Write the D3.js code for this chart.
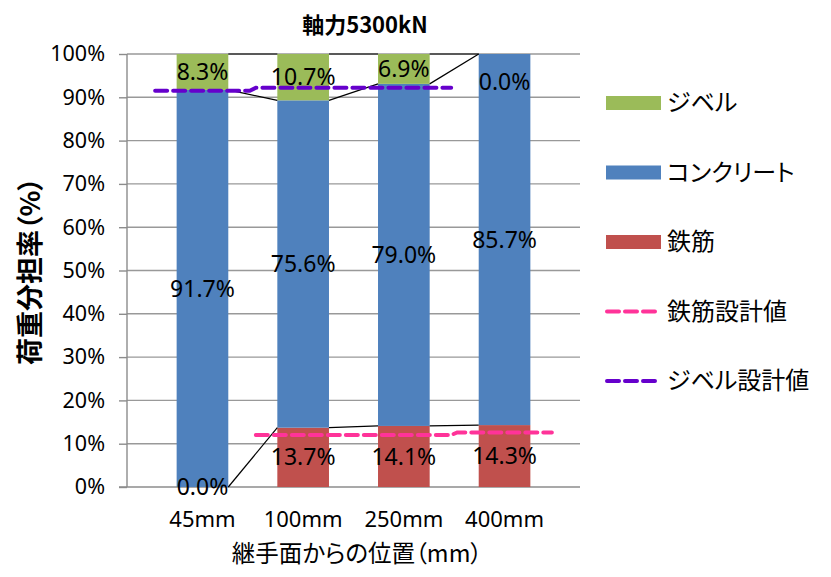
<!DOCTYPE html>
<html>
<head>
<meta charset="utf-8">
<script src="https://cdn.jsdelivr.net/npm/d3@7"></script>
<style>
  body { margin: 0; background: #fff; }
  text { font-family: "Noto Sans", "Noto Sans CJK JP", sans-serif; fill: #000; }
  .jp { font-family: "Noto Sans CJK JP", sans-serif; font-feature-settings: "palt"; }
</style>
</head>
<body>
<div id="chart"></div>
<script>
// data
var categories = ["45mm", "100mm", "250mm", "400mm"];
var rebar = [0.0, 13.7, 14.1, 14.3];       // 鉄筋
var concrete = [91.7, 75.6, 79.0, 85.7];   // コンクリート
var jibel = [8.3, 10.7, 6.9, 0.0];         // ジベル
var rebarDesign = [null, 12.0, 12.0, 12.6];  // 鉄筋設計値
var jibelDesign = [91.5, 92.2, 92.2, null];  // ジベル設計値
var yTicks = [0, 10, 20, 30, 40, 50, 60, 70, 80, 90, 100];

var chart = { width: 831, height: 577,
    left: 127, right: 580, top: 54, bottom: 487 };

var svg = d3.select("#chart").append("svg")
    .attr("width", chart.width)
    .attr("height", chart.height);

var x = d3.scaleBand().domain(categories)
    .range([chart.left, chart.right])
    .paddingInner(0.487).paddingOuter(0.493);
var y = d3.scaleLinear().domain([0, 100]).range([chart.bottom, chart.top]);

// gridlines
svg.append("g").selectAll("line")
    .data(yTicks.slice(1))
    .enter().append("line")
    .attr("x1", chart.left).attr("x2", chart.right)
    .attr("y1", function(d) { return y(d); })
    .attr("y2", function(d) { return y(d); })
    .attr("stroke", "#999").attr("stroke-width", 1.4);

// y axis
var yAxis = svg.append("g")
    .attr("transform", "translate(" + chart.left + ",0)")
    .call(d3.axisLeft(y).tickValues(yTicks).tickSize(8).tickPadding(14)
        .tickFormat(function(d) { return d + "%"; }));
yAxis.selectAll("line").attr("stroke", "#8c8c8c").attr("stroke-width", 1.4);
yAxis.select(".domain").attr("stroke", "#8c8c8c").attr("stroke-width", 1.4)
    .attr("d", "M0," + chart.bottom + "V" + chart.top);
yAxis.selectAll("text").attr("font-size", 21.5).attr("font-family", "Noto Sans").attr("fill", "#000");

// x axis baseline
svg.append("line")
    .attr("x1", chart.left - 8).attr("x2", chart.right)
    .attr("y1", y(0)).attr("y2", y(0))
    .attr("stroke", "#8c8c8c").attr("stroke-width", 1.4);

// stacked bars
var series = [
    { name: "鉄筋", values: rebar, color: "#c0504d" },
    { name: "コンクリート", values: concrete, color: "#4f81bd" },
    { name: "ジベル", values: jibel, color: "#9bbb59" }
];
var stacks = categories.map(function() { return 0; });
series.forEach(function(s) {
    s.base = stacks.slice();
    s.values.forEach(function(v, i) { stacks[i] += v; });
    s.top = stacks.slice();
});

var bw = x.bandwidth();
series.forEach(function(s) {
    svg.append("g").selectAll("rect")
        .data(categories)
        .enter().append("rect")
        .attr("x", function(d) { return x(d); })
        .attr("y", function(d, i) { return y(s.top[i]); })
        .attr("width", bw)
        .attr("height", function(d, i) { return y(s.base[i]) - y(s.top[i]); })
        .attr("fill", s.color);
});

// series lines between bars
series.forEach(function(s) {
    for (var i = 0; i < categories.length - 1; i++) {
        svg.append("line")
            .attr("x1", x(categories[i]) + bw).attr("x2", x(categories[i + 1]))
            .attr("y1", y(s.top[i])).attr("y2", y(s.top[i + 1]))
            .attr("stroke", "#000").attr("stroke-width", 1.2);
    }
});

// data labels
series.forEach(function(s) {
    svg.append("g").selectAll("text")
        .data(categories)
        .enter().append("text")
        .attr("x", function(d) { return x(d) + bw / 2; })
        .attr("y", function(d, i) {
            var yy = y((s.base[i] + s.top[i]) / 2);
            // zero label at the very top sits lower, as in the source chart
            if (s.values[i] === 0 && s.top[i] >= 100) yy = y(93.6);
            return yy;
        })
        .attr("dy", "0.35em")
        .attr("text-anchor", "middle")
        .attr("font-size", 23)
        .text(function(d, i) { return s.values[i].toFixed(1) + "%"; });
});

// design value step lines
var step = x.step();
function designPoints(vals) {
    var pts = [];
    vals.forEach(function(v, i) {
        if (v === null) return;
        var c = x(categories[i]) + bw / 2;
        pts.push([c - step * 0.47, v]);
        pts.push([c + step * 0.47, v]);
    });
    return pts;
}
var line = d3.line()
    .x(function(d) { return d[0]; })
    .y(function(d) { return y(d[1]); });

var designs = [
    { name: "鉄筋設計値", values: rebarDesign, color: "#ff3399" },
    { name: "ジベル設計値", values: jibelDesign, color: "#6600cc" }
];
designs.forEach(function(d) {
    svg.append("path")
        .attr("d", line(designPoints(d.values)))
        .attr("fill", "none")
        .attr("stroke", d.color)
        .attr("stroke-width", 4)
        .attr("stroke-dasharray", "12,6")
        .attr("stroke-linecap", "round");
});

// x tick labels
svg.append("g").selectAll("text")
    .data(categories)
    .enter().append("text")
    .attr("x", function(d) { return x(d) + bw / 2; })
    .attr("y", 519)
    .attr("dy", "0.35em")
    .attr("text-anchor", "middle")
    .attr("font-size", 22)
    .text(function(d) { return d; });

// titles
svg.append("text").attr("class", "jp")
    .attr("x", 365).attr("y", 25).attr("dy", "0.35em")
    .attr("text-anchor", "middle").attr("font-size", 22).attr("font-weight", "bold")
    .text("軸力5300kN");

svg.append("text").attr("class", "jp")
    .attr("x", 357).attr("y", 554).attr("dy", "0.35em")
    .attr("text-anchor", "middle").attr("font-size", 23.5)
    .text("継手面からの位置（mm）");

svg.append("text").attr("class", "jp")
    .attr("transform", "translate(31,271) rotate(-90)")
    .attr("dy", "0.35em")
    .attr("text-anchor", "middle").attr("font-size", 27).attr("font-weight", "bold")
    .text("荷重分担率（%）");

// legend
var legendItems = [
    { name: "ジベル", color: "#9bbb59", type: "box" },
    { name: "コンクリート", color: "#4f81bd", type: "box" },
    { name: "鉄筋", color: "#c0504d", type: "box" },
    { name: "鉄筋設計値", color: "#ff3399", type: "line" },
    { name: "ジベル設計値", color: "#6600cc", type: "line" }
];
var legend = svg.append("g");
legendItems.forEach(function(item, i) {
    var ly = 103 + i * 69.5;
    if (item.type === "box") {
        legend.append("rect")
            .attr("x", 606).attr("y", ly - 7)
            .attr("width", 55).attr("height", 14)
            .attr("fill", item.color);
    } else {
        legend.append("line")
            .attr("x1", 607).attr("x2", 657)
            .attr("y1", ly).attr("y2", ly)
            .attr("stroke", item.color).attr("stroke-width", 4)
            .attr("stroke-dasharray", "12,6").attr("stroke-linecap", "round");
    }
    legend.append("text").attr("class", "jp")
        .attr("x", 667).attr("y", ly).attr("dy", "0.35em")
        .attr("font-size", 24)
        .text(item.name);
});
</script>
</body>
</html>
